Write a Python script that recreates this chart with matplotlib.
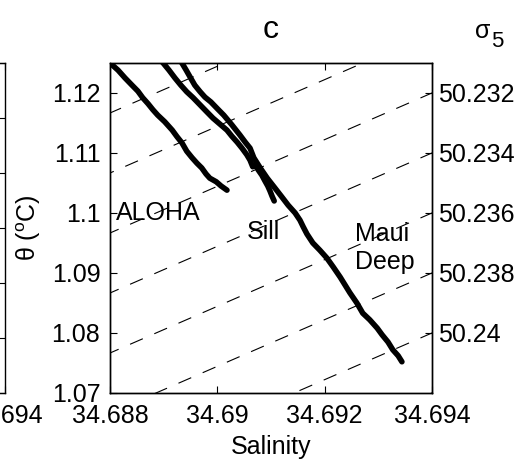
import numpy as np
import matplotlib
matplotlib.use('Agg')
import matplotlib.pyplot as plt

plt.rcParams['font.family'] = 'Liberation Sans'
plt.rcParams['mathtext.fontset'] = 'custom'
plt.rcParams['mathtext.rm'] = 'Liberation Sans'
plt.rcParams['mathtext.it'] = 'Liberation Sans:italic'
plt.rcParams['lines.scale_dashes'] = False

# profiles (salinity, potential temperature)
aloha_S = [34.68789, 34.68800, 34.68815, 34.68828, 34.68841, 34.68852, 34.68861, 34.68871,
           34.68880, 34.68889, 34.68902, 34.68916, 34.68925, 34.68934, 34.68943, 34.68953,
           34.68962, 34.68971, 34.68979, 34.68986, 34.68998, 34.69007, 34.69018]
aloha_T = [1.1260, 1.1250, 1.1238, 1.1225, 1.1213, 1.1203, 1.1192, 1.1182,
           1.1172, 1.1163, 1.1152, 1.1138, 1.1127, 1.1117, 1.1103, 1.1092,
           1.1083, 1.1075, 1.1065, 1.1058, 1.1052, 1.1045, 1.1038]

sill_S = [34.68889, 34.68899, 34.68910, 34.68921, 34.68932, 34.68943, 34.68955, 34.68968,
          34.68981, 34.68992, 34.69005, 34.69018, 34.69027, 34.69037, 34.69046, 34.69055,
          34.69061, 34.69066, 34.69072, 34.69076, 34.69083, 34.69089, 34.69094, 34.69098,
          34.69102, 34.69106]
sill_T = [1.1260, 1.1250, 1.1238, 1.1225, 1.1213, 1.1202, 1.1192, 1.1180,
          1.1168, 1.1158, 1.1148, 1.1138, 1.1128, 1.1118, 1.1108, 1.1097,
          1.1088, 1.1077, 1.1080, 1.1072, 1.1063, 1.1053, 1.1045, 1.1037,
          1.1028, 1.1020]

maui_S = [34.68925, 34.68934, 34.68942, 34.68949, 34.68958, 34.68968, 34.68977, 34.68988,
          34.69001, 34.69012, 34.69027, 34.69042, 34.69052, 34.69061, 34.69068, 34.69080,
          34.69093, 34.69107, 34.69120, 34.69132, 34.69145, 34.69154, 34.69160, 34.69167,
          34.69178, 34.69191, 34.69204, 34.69216, 34.69229, 34.69238, 34.69247, 34.69260,
          34.69271, 34.69284, 34.69298, 34.69307, 34.69318, 34.69327, 34.69337, 34.69344]
maui_T = [1.1260, 1.1250, 1.1238, 1.1227, 1.1213, 1.1202, 1.1193, 1.1185,
          1.1173, 1.1163, 1.1147, 1.1130, 1.1118, 1.1108, 1.1092, 1.1075,
          1.1058, 1.1042, 1.1027, 1.1013, 1.1000, 1.0988, 1.0977, 1.0965,
          1.0950, 1.0938, 1.0925, 1.0910, 1.0893, 1.0880, 1.0867, 1.0850,
          1.0833, 1.0822, 1.0808, 1.0797, 1.0785, 1.0772, 1.0762, 1.0752]

# local linear fit of sigma_5 read from the isopycnals
sig_ref, s_ref, t_ref = 50.232, 34.694, 1.12
alpha_S, beta_T = 0.778, 0.2
sigma_levels = [50.226, 50.228, 50.230, 50.232, 50.234, 50.236, 50.238, 50.240, 50.242]
sigma_ticks = [50.232, 50.234, 50.236, 50.238, 50.240]
sigma_labels = ['50.232', '50.234', '50.236', '50.238', '50.24']

x_ticks = [34.688, 34.690, 34.692, 34.694]
x_labels = ['34.688', '34.69', '34.692', '34.694']
y_ticks = [1.07, 1.08, 1.09, 1.10, 1.11, 1.12]
y_labels = ['1.07', '1.08', '1.09', '1.1', '1.11', '1.12']

fs = 18
fig = plt.figure(figsize=(5.29, 4.66), dpi=100)

# neighbouring panel (b), mostly off the page
ax_b = fig.add_axes([-0.600, 0.1567, 0.6087, 0.7082])
ax_b.set_xlim(34.688, 34.694)
ax_b.set_ylim(1.07, 1.13)
ax_b.set_xticks(x_ticks)
ax_b.set_xticklabels(x_labels)
ax_b.set_yticks([1.07, 1.08, 1.09, 1.10, 1.11, 1.12, 1.13])
ax_b.set_yticklabels([])
ax_b.tick_params(direction='in', length=5, width=0.8, top=True, right=True,
                 labelsize=fs, pad=8)

ax = fig.add_axes([0.2079, 0.1567, 0.6087, 0.7082])
SS, TT = np.meshgrid(np.linspace(34.686, 34.696, 11), np.linspace(1.06, 1.135, 11))
sig = sig_ref + alpha_S * (SS - s_ref) - beta_T * (TT - t_ref)
ax.contour(SS, TT, sig, levels=sigma_levels, colors='k', linewidths=0.8,
           linestyles=[(0, (10, 9))], zorder=2)

for s, t in [(aloha_S, aloha_T), (sill_S, sill_T), (maui_S, maui_T)]:
    ax.plot(s, t, color='k', lw=4.0, solid_capstyle='round', solid_joinstyle='round', zorder=3)

ax.text(34.68811, 1.1, 'ALOHA', fontsize=fs, ha='left', va='center', zorder=1)
ax.text(34.69055, 1.0968, 'Sill', fontsize=fs, ha='left', va='center', zorder=1)
ax.text(34.69256, 1.0942, 'Maui\nDeep', fontsize=fs, ha='left', va='center', zorder=1)

ax.set_xlim(34.688, 34.694)
ax.set_ylim(1.07, 1.125)
ax.set_xticks(x_ticks)
ax.set_xticklabels(x_labels)
ax.set_yticks(y_ticks)
ax.set_yticklabels(y_labels)
ax.tick_params(direction='in', length=5, width=0.8, top=True, right=False,
               labelsize=fs)
ax.tick_params(axis='x', pad=8)
ax.tick_params(axis='y', pad=7)
ax.set_xlabel('Salinity', fontsize=fs)
ax.xaxis.set_label_coords(0.5, -0.127)
ax.text(-0.252, 0.5, r'θ ($^{\rm o}$C)', rotation=90, fontsize=fs,
        ha='center', va='center', transform=ax.transAxes)
ax.text(0.5, 1.1, 'c', fontsize=23, ha='center', va='center', transform=ax.transAxes)

ax2 = ax.twinx()
ax2.set_ylim(1.07, 1.125)
theta_right = [t_ref - (s - sig_ref) / beta_T for s in sigma_ticks]
ax2.set_yticks(theta_right)
ax2.set_yticklabels(sigma_labels)
ax2.tick_params(direction='in', length=5, width=0.8, labelsize=fs, pad=4)
ax2.text(1.180, 1.098, 'σ', fontsize=fs, ha='right', va='center',
         transform=ax.transAxes)
ax2.text(1.182, 1.065, '5', fontsize=16, ha='left', va='center',
         transform=ax.transAxes)

for a in (ax, ax2, ax_b):
    for sp in a.spines.values():
        sp.set_linewidth(1.0)

fig.savefig('out.png', dpi=100)
